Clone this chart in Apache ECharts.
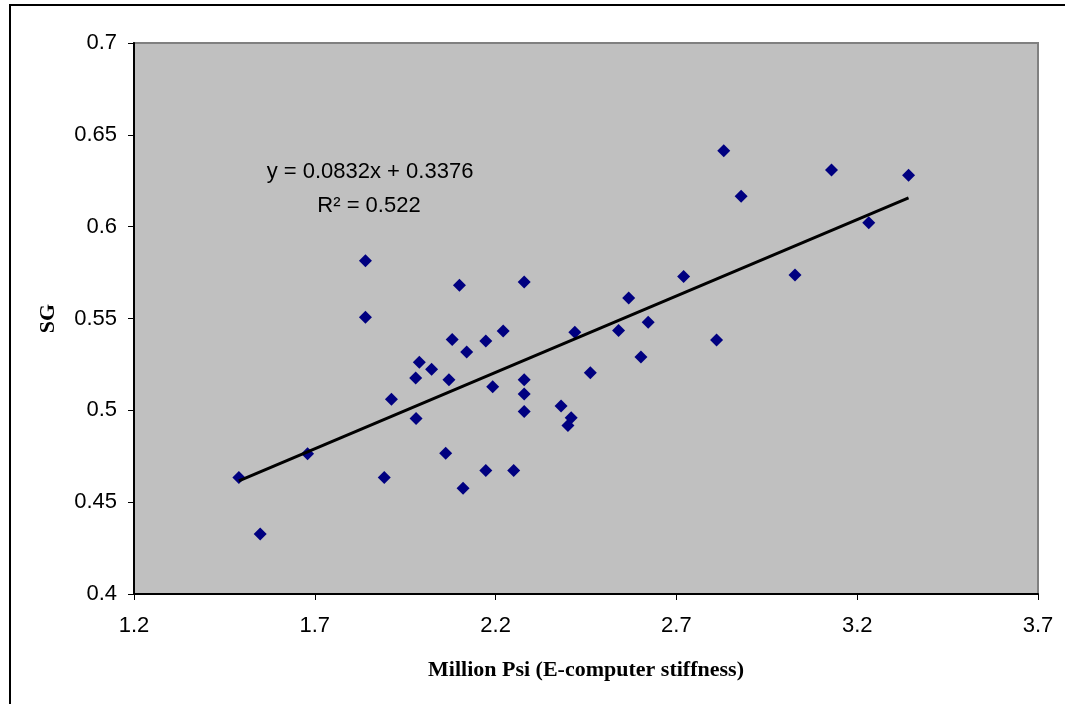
<!DOCTYPE html>
<html>
<head>
<meta charset="utf-8">
<script src="https://cdn.jsdelivr.net/npm/echarts@6/dist/echarts.min.js"></script>
<style>
    html, body { margin: 0; padding: 0; background: #fff; }
    #chart { width: 1065px; height: 704px; }
</style>
</head>
<body>
<div id="chart"></div>
<script>
// E-computer stiffness (million psi) vs specific gravity
var stiffness = [1.490, 1.549, 1.680, 1.840, 1.840, 1.892, 1.912, 1.980, 1.989, 2.023,
    1.979, 2.071, 2.062, 2.080, 2.100, 2.110, 2.120, 2.173, 2.173, 2.192,
    2.221, 2.250, 2.279, 2.279, 2.279, 2.279, 2.381, 2.400, 2.409, 2.419,
    2.462, 2.540, 2.568, 2.602, 2.622, 2.720, 2.811, 2.831, 2.879, 3.028,
    3.129, 3.232, 3.342];
var sg = [0.4634, 0.4327, 0.4763, 0.5814, 0.5507, 0.4634, 0.5060, 0.4955, 0.5262, 0.5224,
    0.5176, 0.5166, 0.4766, 0.5386, 0.5681, 0.4576, 0.5318, 0.5377, 0.4672, 0.5129,
    0.5432, 0.4672, 0.5699, 0.5166, 0.5089, 0.4993, 0.5024, 0.4917, 0.4959, 0.5425,
    0.5204, 0.5434, 0.5612, 0.5291, 0.5480, 0.5728, 0.5383, 0.6413, 0.6166, 0.5737,
    0.6309, 0.6022, 0.6280];

// linear trendline as printed on the chart
var slope = 0.0832;
var intercept = 0.3376;
var trendX = [1.49, 3.342];
var rSquared = 0.522;

var xTicks = [1.2, 1.7, 2.2, 2.7, 3.2, 3.7];
var yTicks = [0.4, 0.45, 0.5, 0.55, 0.6, 0.65, 0.7];

var points = stiffness.map(function (x, i) {
    return [x, sg[i]];
});
var trendData = trendX.map(function (x) {
    return [x, slope * x + intercept];
});

var dom = document.getElementById('chart');
var chart = echarts.init(dom);

var tickFont = {
    color: '#000',
    fontSize: 22,
    fontFamily: '"Liberation Sans", Arial, sans-serif'
};

var option = {
    animation: false,
    backgroundColor: '#fff',
    grid: {
        left: 134,
        top: 43,
        right: 27,
        bottom: 110,
        show: true,
        backgroundColor: '#C0C0C0',
        borderColor: '#808080',
        borderWidth: 2
    },
    xAxis: {
        type: 'value',
        min: xTicks[0],
        max: xTicks[xTicks.length - 1],
        interval: 0.5,
        name: 'Million Psi (E-computer stiffness)',
        nameLocation: 'middle',
        nameGap: 65,
        nameTextStyle: {
            color: '#000',
            fontSize: 22,
            fontWeight: 'bold',
            fontFamily: '"Liberation Serif", "Times New Roman", serif'
        },
        axisLine: {show: true, lineStyle: {color: '#000', width: 2}},
        axisTick: {show: true, length: 6, lineStyle: {color: '#000', width: 1}},
        axisLabel: Object.assign({
            margin: 21,
            formatter: function (v) {
                return v.toFixed(1);
            }
        }, tickFont),
        splitLine: {show: false}
    },
    yAxis: {
        type: 'value',
        min: yTicks[0],
        max: yTicks[yTicks.length - 1],
        interval: 0.05,
        name: 'SG',
        nameLocation: 'middle',
        nameGap: 75,
        nameTextStyle: {
            color: '#000',
            fontSize: 22,
            fontWeight: 'bold',
            fontFamily: '"Liberation Serif", "Times New Roman", serif'
        },
        axisLine: {show: true, lineStyle: {color: '#000', width: 2}},
        axisTick: {show: true, length: 6, lineStyle: {color: '#000', width: 1}},
        axisLabel: Object.assign({
            margin: 17,
            formatter: function (v) {
                return String(parseFloat(v.toFixed(2)));
            }
        }, tickFont),
        splitLine: {show: false}
    },
    series: [{
        name: 'SG',
        type: 'scatter',
        symbol: 'diamond',
        symbolSize: [13, 13],
        itemStyle: {color: '#000080', opacity: 1},
        data: points,
        z: 3
    }, {
        name: 'Linear',
        type: 'line',
        data: trendData,
        symbol: 'none',
        lineStyle: {color: '#000', width: 3},
        z: 4
    }],
    graphic: [{
        type: 'rect',
        shape: {x: 10, y: 5, width: 1200, height: 800},
        style: {fill: 'none', stroke: '#000', lineWidth: 2},
        silent: true
    }, {
        type: 'text',
        style: {
            x: 370,
            y: 172,
            text: 'y = ' + slope + 'x + ' + intercept,
            textAlign: 'center',
            textVerticalAlign: 'middle',
            fill: '#000',
            fontSize: 22,
            fontFamily: '"Liberation Sans", Arial, sans-serif'
        },
        z: 10
    }, {
        type: 'text',
        style: {
            x: 369,
            y: 206,
            text: 'R\u00B2 = ' + rSquared,
            textAlign: 'center',
            textVerticalAlign: 'middle',
            fill: '#000',
            fontSize: 22,
            fontFamily: '"Liberation Sans", Arial, sans-serif'
        },
        z: 10
    }]
};

chart.setOption(option);
</script>
</body>
</html>
